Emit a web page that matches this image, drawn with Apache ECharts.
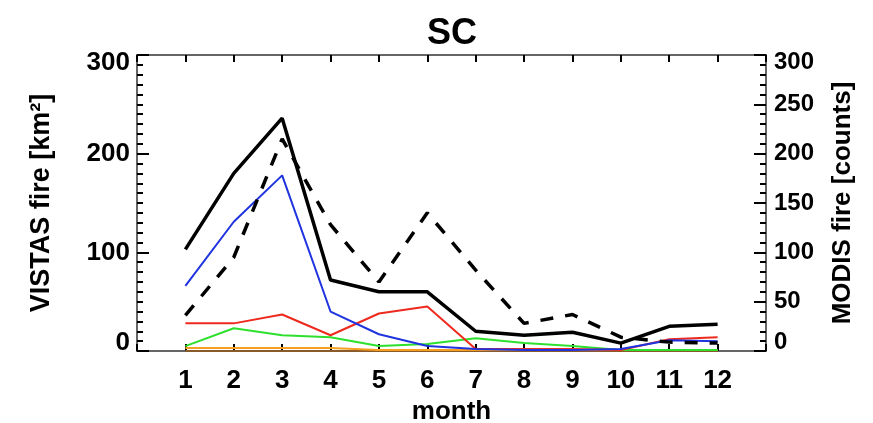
<!DOCTYPE html>
<html>
<head>
<meta charset="utf-8">
<script src="https://cdn.jsdelivr.net/npm/echarts@6/dist/echarts.min.js"></script>
<style>html,body{margin:0;padding:0;background:#fff}#c{width:873px;height:423px}</style>
</head>
<body>
<div id="c"></div>
<script>
// ---- data ----
var months = [1, 2, 3, 4, 5, 6, 7, 8, 9, 10, 11, 12];
var vistasTotal = [103, 180, 236, 72, 60, 60, 20, 16, 19, 8, 25, 27];   // black solid (left axis)
var modisCounts = [36, 95, 215, 128, 70, 140, 82, 28, 37, 14, 9, 8];   // black dashed (right axis)
var blueSeries  = [66, 131, 178, 40, 17, 5, 2, 1, 1, 2, 11, 10];
var redSeries   = [28, 28, 37, 16, 38, 45, 2, 2, 2, 1, 12, 14];
var greenSeries = [5, 23, 16, 14, 5, 7, 13, 8, 5, 1, 1, 1];
var orangeSeries = [3, 3, 3, 3, 1, 1, 1, 1, 1, 1, 1, 1];
var brownSeries = [0, 0, 0, 0, 0, 0, 0, 0, 0, 0, 0, 0];
var leftTicks = [0, 100, 200, 300];
var rightTicks = [0, 50, 100, 150, 200, 250, 300];

function pairs(v) { return months.map(function (m, i) { return [m, v[i]]; }); }

var FONT = 'Liberation Sans, Arial, Helvetica, sans-serif';
var frame = { show: true, onZero: false, lineStyle: { color: '#333', width: 1.5 } };
var tickStyle = { color: '#000', width: 2 };

function yLabel(list) {
  return function (v) {
    if (list.indexOf(v) < 0) return '';
    if (v === 0) return '{lo|' + v + '}';
    if (v === 300) return '{hi|' + v + '}';
    return String(v);
  };
}
var yRich = { lo: { padding: [0, 0, 17, 0] }, hi: { padding: [15, 0, 0, 0] } };

var chart = echarts.init(document.getElementById('c'), null, { renderer: 'canvas' });
chart.setOption({
  animation: false,
  backgroundColor: '#fff',
  title: {
    text: 'SC', left: 447, top: 11, textAlign: 'center',
    textStyle: { fontFamily: FONT, fontWeight: 'bold', fontSize: 36, color: '#000' }
  },
  grid: { left: 137, right: 107, top: 55, bottom: 72, containLabel: false, outerBoundsMode: 'none' },
  xAxis: [{
    type: 'value', min: 0, max: 13, interval: 1, position: 'bottom',
    name: 'month', nameLocation: 'middle', nameGap: 40,
    nameTextStyle: { fontFamily: FONT, fontWeight: 'bold', fontSize: 26, color: '#000' },
    axisLine: frame,
    axisTick: { show: true, inside: true, length: 7, lineStyle: tickStyle },
    axisLabel: {
      margin: 17, fontFamily: FONT, fontWeight: 'bold', fontSize: 26, color: '#000',
      formatter: function (v) { return (v >= 1 && v <= 12) ? String(v) : ''; }
    },
    splitLine: { show: false }
  }, {
    type: 'value', min: 0, max: 13, interval: 1, position: 'top',
    axisLine: frame,
    axisTick: { show: true, inside: true, length: 7, lineStyle: tickStyle },
    axisLabel: { show: false },
    splitLine: { show: false }
  }],
  yAxis: [{
    type: 'value', min: 0, max: 300, interval: 100, position: 'left',
    name: 'VISTAS fire [km²]', nameLocation: 'middle', nameGap: 82, nameRotate: 90,
    nameTextStyle: { fontFamily: FONT, fontWeight: 'bold', fontSize: 27, color: '#000' },
    axisLine: frame,
    axisTick: { show: true, inside: true, length: 12, lineStyle: tickStyle },
    minorTick: { show: true, splitNumber: 10, length: 6, lineStyle: tickStyle },
    axisLabel: {
      margin: 7, fontFamily: FONT, fontWeight: 'bold', fontSize: 26, color: '#000',
      formatter: yLabel(leftTicks), rich: yRich
    },
    splitLine: { show: false }, minorSplitLine: { show: false }
  }, {
    type: 'value', min: 0, max: 300, interval: 50, position: 'right',
    name: 'MODIS fire [counts]', nameLocation: 'middle', nameGap: 64, nameRotate: 90,
    nameTextStyle: { fontFamily: FONT, fontWeight: 'bold', fontSize: 26, color: '#000' },
    axisLine: frame,
    axisTick: { show: true, inside: true, length: 12, lineStyle: tickStyle },
    minorTick: { show: true, splitNumber: 5, length: 6, lineStyle: tickStyle },
    axisLabel: {
      margin: 8, fontFamily: FONT, fontWeight: 'bold', fontSize: 24, color: '#000',
      formatter: yLabel(rightTicks), rich: yRich
    },
    splitLine: { show: false }, minorSplitLine: { show: false }
  }],
  series: [
    { name: 'brown', type: 'line', data: pairs(brownSeries), showSymbol: false, lineStyle: { color: '#8b5a2b', width: 2 } },
    { name: 'orange', type: 'line', data: pairs(orangeSeries), showSymbol: false, lineStyle: { color: '#f5a020', width: 2 } },
    { name: 'green', type: 'line', data: pairs(greenSeries), showSymbol: false, lineStyle: { color: '#2ee02e', width: 2 } },
    { name: 'red', type: 'line', data: pairs(redSeries), showSymbol: false, lineStyle: { color: '#ee2a1e', width: 2 } },
    { name: 'blue', type: 'line', data: pairs(blueSeries), showSymbol: false, lineStyle: { color: '#1f33e0', width: 2 } },
    { name: 'MODIS', type: 'line', yAxisIndex: 1, data: pairs(modisCounts), showSymbol: false,
      lineStyle: { color: '#000', width: 3.5, type: [13, 12] } },
    { name: 'VISTAS', type: 'line', data: pairs(vistasTotal), showSymbol: false,
      lineStyle: { color: '#000', width: 3.5 } }
  ]
});
</script>
</body>
</html>
